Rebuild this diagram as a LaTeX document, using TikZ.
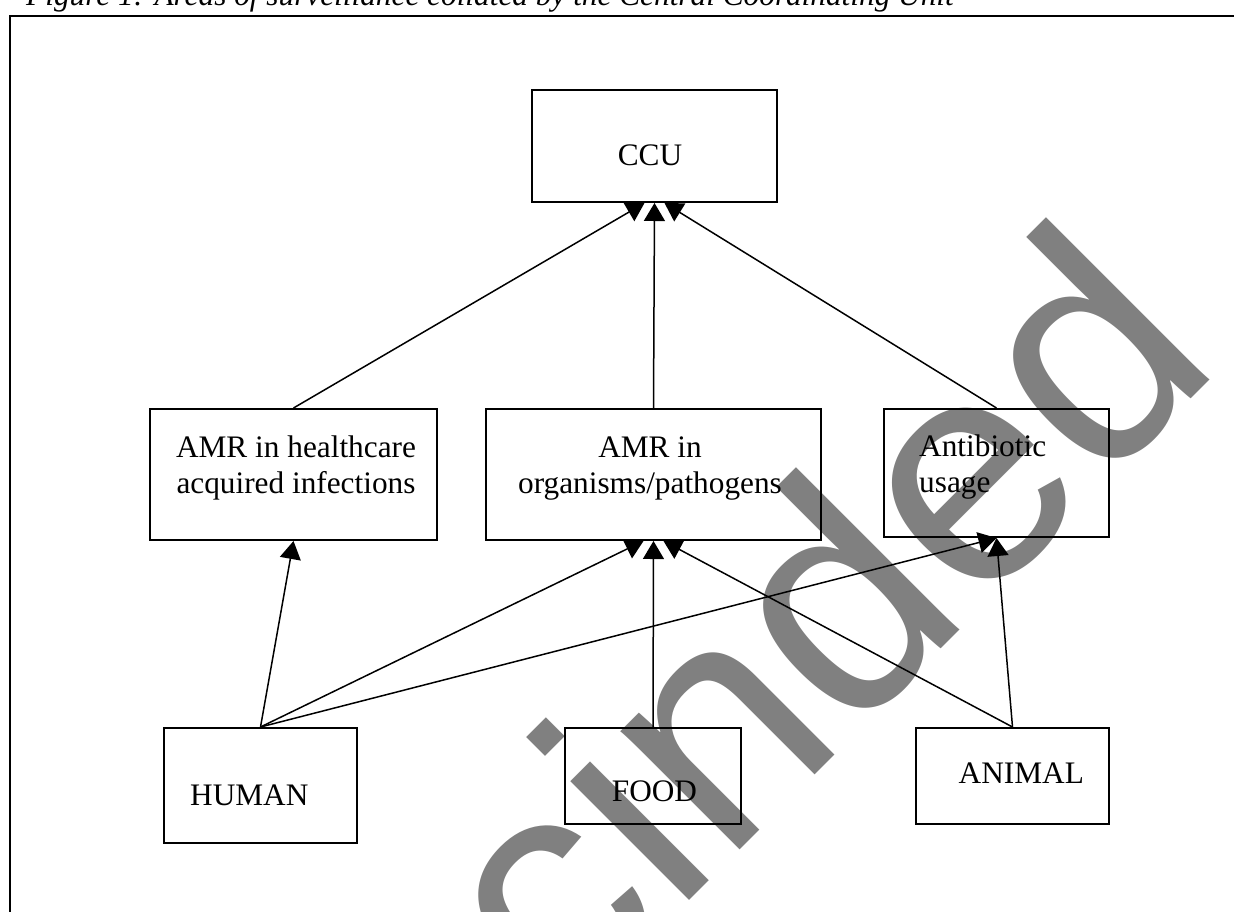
\documentclass[tikz,border=0pt]{standalone}
\usepackage{fontspec}
\setmainfont{Liberation Serif}
\newfontfamily\wmfont{Liberation Sans}
\usetikzlibrary{arrows.meta}
\newcommand{\boxfont}{\fontsize{31.3pt}{36pt}\selectfont}

\begin{document}
\begin{tikzpicture}[x=1pt, y=-1pt,
    box/.style={draw, line width=2pt, inner sep=0pt},
    txt/.style={font=\boxfont, inner sep=0pt},
    arr/.style={line width=1.5pt, -{Triangle[length=18pt, width=21pt]}}]
    \clip (0,0) rectangle (1234,911);

    % Watermark
    \node[font=\wmfont\fontsize{318pt}{318pt}\selectfont, text=black!50, rotate=45,
          anchor=base west, inner sep=0pt] (wm) at (162,1428) {Rescinded};

    % Caption and frame
    \node[txt, font=\boxfont\itshape, anchor=base west] (cap) at (26,5)
        {Figure 1: Areas of surveillance collated by the Central Coordinating Unit};
    \draw[line width=2pt] (10,16) rectangle (1260,940);

    % Top
    \node[box, minimum width=245pt, minimum height=112pt] (ccu) at (654.5,146) {};
    \node[txt, anchor=base] (ccu-t) at (650,165) {CCU};

    % Middle row
    \node[box, minimum width=287pt, minimum height=131pt] (hai) at (293.5,474.5) {};
    \node[txt, align=center] (hai-t) at (296,468.4) {AMR in healthcare\\acquired infections};
    \node[box, minimum width=335pt, minimum height=131pt] (amr) at (653.5,474.5) {};
    \node[txt, align=center] (amr-t) at (650,468.4) {AMR in\\organisms/pathogens};
    \node[box, minimum width=225pt, minimum height=128pt] (abu) at (996.5,473) {};
    \node[txt, align=left, anchor=west] (abu-t) at (919,466.7) {Antibiotic\\usage};

    % Bottom row
    \node[box, minimum width=193pt, minimum height=115pt] (human) at (260.5,785.5) {};
    \node[txt, anchor=base west] (human-t) at (190,805) {HUMAN};
    \node[box, minimum width=176pt, minimum height=96pt] (food) at (653,776) {};
    \node[txt, anchor=base] (food-t) at (654.5,801) {FOOD};
    \node[box, minimum width=193pt, minimum height=96pt] (animal) at (1012.5,776) {};
    \node[txt, anchor=base] (animal-t) at (1021.3,783) {ANIMAL};

    % Arrows up to CCU
    \draw[arr] (hai.north) -- ([xshift=-10pt]ccu.south);
    \draw[arr] (amr.north) -- (ccu.south);
    \draw[arr] (abu.north) -- ([xshift=10pt]ccu.south);

    % Arrows from the sources
    \draw[arr] (human.north) -- (hai.south);
    \draw[arr] (human.north) -- ([xshift=-10pt]amr.south);
    \draw[arr] (human.north) -- (abu.south);
    \draw[arr] (food.north) -- (amr.south);
    \draw[arr] (animal.north) -- ([xshift=10pt]amr.south);
    \draw[arr] (animal.north) -- (abu.south);

\end{tikzpicture}
\end{document}
